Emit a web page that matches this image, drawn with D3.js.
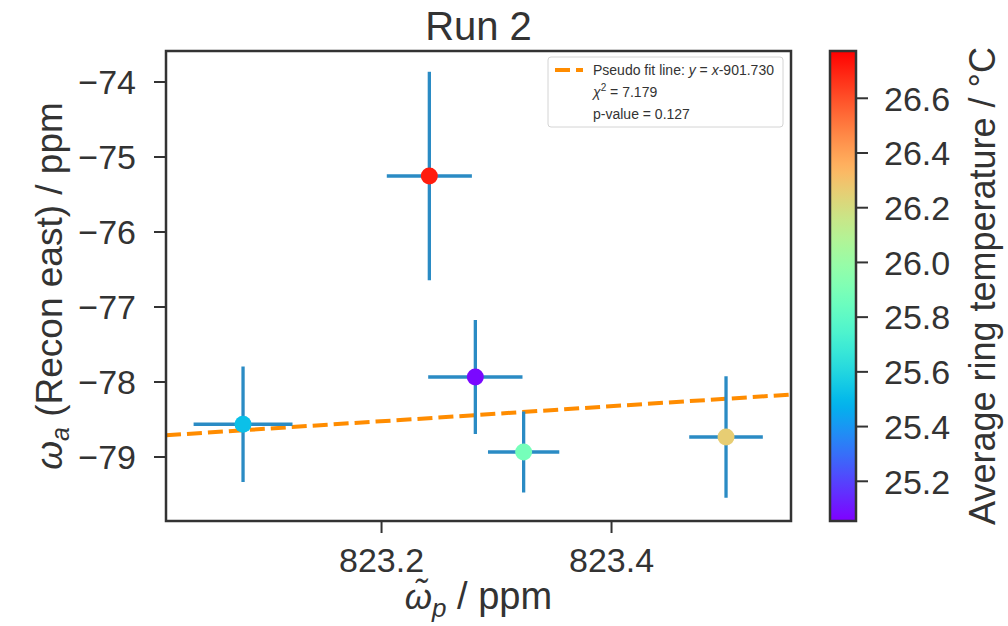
<!DOCTYPE html>
<html>
<head>
<meta charset="utf-8">
<script src="https://cdn.jsdelivr.net/npm/d3@7"></script>
<style>
  body { margin: 0; background: #fff; }
  svg { font-family: "Liberation Sans", Arial, sans-serif; }
</style>
</head>
<body>
<svg id="chart" width="1008" height="626"></svg>
<script>
// data
const omegaP = [823.080, 823.242, 823.282, 823.324, 823.500]
const omegaPErr = [0.043, 0.037, 0.041, 0.031, 0.032]
const omegaA = [-78.57, -75.26, -77.94, -78.94, -78.74]
const omegaAErr = [0.77, 1.39, 0.76, 0.54, 0.81]
const ringTemp = [25.52, 26.71, 25.07, 25.88, 26.26]
const fitOffset = -901.730
const xTicks = [823.2, 823.4]
const yTicks = [-74, -75, -76, -77, -78, -79]
const cbTicks = [25.2, 25.4, 25.6, 25.8, 26.0, 26.2, 26.4, 26.6]
const legendLines = ['chi', 'p-value = 0.127']

const svg = d3.select('#chart')
const ink = '#333333'
const margin = {left: 166, right: 791, top: 51, bottom: 521}

const xScale = d3.scaleLinear()
  .domain([823.013, 823.5565])
  .range([margin.left, margin.right])
const yScale = d3.scaleLinear()
  .domain([-73.593, -79.86])
  .range([margin.top, margin.bottom])

// matplotlib "rainbow" colormap
const rainbow = t => {
  const c = v => Math.round(255 * Math.max(0, Math.min(1, v)))
  return `rgb(${c(Math.abs(2 * t - 0.5))},${c(Math.sin(Math.PI * t))},${c(Math.cos(Math.PI * t / 2))})`
}
const color = d3.scaleSequential(rainbow).domain([25.053, 26.771])

const points = omegaP.map((x, i) => ({x: x, xe: omegaPErr[i], y: omegaA[i], ye: omegaAErr[i], t: ringTemp[i]}))

svg.append('clipPath').attr('id', 'plotclip')
  .append('rect')
  .attr('x', margin.left).attr('y', margin.top)
  .attr('width', margin.right - margin.left)
  .attr('height', margin.bottom - margin.top)

// fit line
const fitG = svg.append('g').attr('clip-path', 'url(#plotclip)')
const xd = xScale.domain()
fitG.append('line')
  .attr('x1', xScale(xd[0])).attr('y1', yScale(xd[0] + fitOffset))
  .attr('x2', xScale(xd[1])).attr('y2', yScale(xd[1] + fitOffset))
  .attr('stroke', '#ff8c00')
  .attr('stroke-width', 4)
  .attr('stroke-dasharray', '15,6')

// error bars
const errG = svg.append('g').attr('clip-path', 'url(#plotclip)')
errG.selectAll('.xerr')
  .data(points).enter().append('line')
  .attr('x1', d => xScale(d.x - d.xe)).attr('x2', d => xScale(d.x + d.xe))
  .attr('y1', d => yScale(d.y)).attr('y2', d => yScale(d.y))
  .attr('stroke', '#2a8bc4').attr('stroke-width', 3.3)
errG.selectAll('.yerr')
  .data(points).enter().append('line')
  .attr('x1', d => xScale(d.x)).attr('x2', d => xScale(d.x))
  .attr('y1', d => yScale(d.y - d.ye)).attr('y2', d => yScale(d.y + d.ye))
  .attr('stroke', '#2a8bc4').attr('stroke-width', 3.3)

errG.selectAll('circle')
  .data(points).enter().append('circle')
  .attr('cx', d => xScale(d.x))
  .attr('cy', d => yScale(d.y))
  .attr('r', 8.5)
  .style('fill', d => color(d.t))

// axes
const xAxis = svg.append('g')
  .attr('transform', `translate(0,${margin.bottom})`)
  .call(d3.axisBottom(xScale).tickValues(xTicks).tickSize(12).tickPadding(15).tickFormat(d3.format('.1f')))
const yAxis = svg.append('g')
  .attr('transform', `translate(${margin.left},0)`)
  .call(d3.axisLeft(yScale).tickValues(yTicks).tickSize(12).tickPadding(18).tickFormat(d => '\u2212' + Math.abs(d)))
;[xAxis, yAxis].forEach(a => {
  a.select('.domain').remove()
  a.selectAll('line').attr('stroke', ink).attr('stroke-width', 2)
  a.selectAll('text').attr('fill', ink).style('font-size', '34px')
})
yAxis.selectAll('text').attr('dy', '0.36em')

svg.append('rect')
  .attr('x', margin.left).attr('y', margin.top)
  .attr('width', margin.right - margin.left)
  .attr('height', margin.bottom - margin.top)
  .attr('fill', 'none').attr('stroke', ink).attr('stroke-width', 2.5)

// title and labels
svg.append('text')
  .attr('x', (margin.left + margin.right) / 2).attr('y', 40)
  .attr('text-anchor', 'middle').attr('fill', ink)
  .style('font-size', '40px')
  .text('Run 2')

const xl = svg.append('text')
  .attr('x', (margin.left + margin.right) / 2).attr('y', 609)
  .attr('text-anchor', 'middle').attr('fill', ink)
  .style('font-size', '38px')
xl.append('tspan').style('font-style', 'italic').style('font-size', '35px').text('\u03c9\u0303')
xl.append('tspan').style('font-style', 'italic').style('font-size', '26px').attr('dy', 8).text('p')
xl.append('tspan').attr('dy', -8).text(' / ppm')

const yl = svg.append('text')
  .attr('transform', `translate(62,${(margin.top + margin.bottom) / 2}) rotate(-90)`)
  .attr('text-anchor', 'middle').attr('fill', ink)
  .style('font-size', '37px')
yl.append('tspan').style('font-style', 'italic').text('\u03c9')
yl.append('tspan').style('font-style', 'italic').style('font-size', '25px').attr('dy', 7).text('a')
yl.append('tspan').attr('dy', -7).text(' (Recon east) / ppm')

// legend
const lg = svg.append('g')
lg.append('rect')
  .attr('x', 548).attr('y', 57).attr('width', 235).attr('height', 70)
  .attr('rx', 3).attr('fill', '#fff').attr('stroke', '#d4d4d4').attr('stroke-width', 1)
lg.append('line')
  .attr('x1', 555).attr('x2', 583).attr('y1', 70).attr('y2', 70)
  .attr('stroke', '#ff8c00').attr('stroke-width', 4).attr('stroke-dasharray', '15,6')
const lt = lg.append('text').attr('x', 593).attr('y', 75).attr('fill', ink).style('font-size', '14px')
lt.append('tspan').text('Pseudo fit line: ')
lt.append('tspan').style('font-style', 'italic').text('y')
lt.append('tspan').text(' = ')
lt.append('tspan').style('font-style', 'italic').text('x')
lt.append('tspan').text('-901.730')
const ct = lg.append('text').attr('x', 593).attr('y', 97).attr('fill', ink).style('font-size', '14px')
ct.append('tspan').style('font-style', 'italic').text('\u03c7')
ct.append('tspan').style('font-size', '10px').attr('dy', -6).text('2')
ct.append('tspan').attr('dy', 6).text(' = 7.179')
lg.append('text').attr('x', 593).attr('y', 119).attr('fill', ink).style('font-size', '14px')
  .text(legendLines[1])

// colorbar
const cbX = 830, cbW = 26
const cbScale = d3.scaleLinear().domain(color.domain()).range([margin.bottom, margin.top])
const grad = svg.append('defs').append('linearGradient')
  .attr('id', 'cbgrad').attr('x1', 0).attr('x2', 0).attr('y1', 1).attr('y2', 0)
grad.selectAll('stop')
  .data(d3.range(0, 1.0001, 0.02)).enter().append('stop')
  .attr('offset', d => d)
  .attr('stop-color', d => rainbow(d))
svg.append('rect')
  .attr('x', cbX).attr('y', margin.top).attr('width', cbW)
  .attr('height', margin.bottom - margin.top)
  .attr('fill', 'url(#cbgrad)').attr('stroke', ink).attr('stroke-width', 2.5)
const cbAxis = svg.append('g')
  .attr('transform', `translate(${cbX + cbW},0)`)
  .call(d3.axisRight(cbScale).tickValues(cbTicks).tickSize(12).tickPadding(16).tickFormat(d3.format('.1f')))
cbAxis.select('.domain').remove()
cbAxis.selectAll('line').attr('stroke', ink).attr('stroke-width', 2)
cbAxis.selectAll('text').attr('fill', ink).style('font-size', '34px').attr('dy', '0.36em')

svg.append('text')
  .attr('transform', `translate(995,${(margin.top + margin.bottom) / 2}) rotate(-90)`)
  .attr('text-anchor', 'middle').attr('fill', ink)
  .style('font-size', '36px')
  .text('Average ring temperature / \u00b0C')
</script>
</body>
</html>
